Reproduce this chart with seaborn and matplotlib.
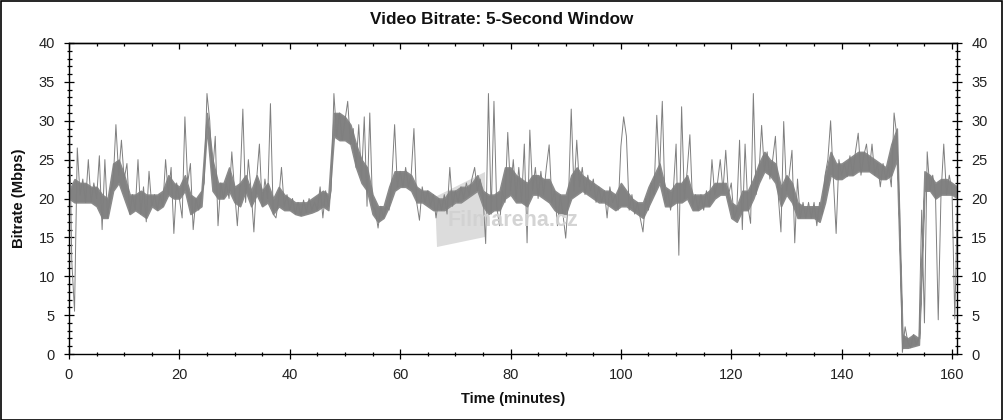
import numpy as np
import pandas as pd
import matplotlib
matplotlib.use("Agg")
import matplotlib.pyplot as plt
from matplotlib.ticker import MultipleLocator
from matplotlib.patches import Rectangle, Polygon
import seaborn as sns

# ---- data ----
SAMPLE_STEP_MIN = 0.5  # one reading every half minute (spikes and dips)

bitrate_mbps = [
    34, 12, 5.5, 26.5, 20.5, 22.5, 19.5, 25, 19.5, 22,
    20, 25.5, 16, 25, 17.5, 21, 22, 29.5, 23, 27.5,
    22.5, 24.5, 18, 20.5, 18.5, 25, 18, 21.5, 17, 23.5,
    19, 20.5, 18.5, 20.5, 19, 25, 20.5, 24, 15.5, 22,
    20, 17.5, 30.5, 22, 24.5, 16, 20, 18.5, 20.5, 22,
    33.5, 30, 23, 28, 16.5, 22, 20, 22, 20, 26,
    21, 16.5, 22, 31.5, 19.5, 25, 21, 15.7, 22.5, 27,
    19, 22.5, 20, 32.2, 18, 17.5, 20, 24, 19, 20.5,
    18.5, 20, 18, 19.5, 17.8, 19.8, 18.2, 20, 18.5, 19.5,
    18.5, 21.5, 17.5, 21, 19, 21, 33.5, 28, 31, 27.5,
    30, 32.5, 27, 29, 24, 29.5, 22.5, 30.5, 19, 31,
    19, 18.5, 16.2, 19, 17.5, 19, 18.5, 22.5, 29.5, 21.5,
    23.5, 21.5, 24, 21.5, 23, 29, 19.5, 17.2, 21.5, 19.5,
    21, 19, 20.5, 17.5, 20, 18.5, 20.5, 18, 24, 19,
    21, 19.5, 21.5, 20, 22, 20.5, 22.5, 24, 21, 22.5,
    20.5, 14.2, 33.5, 18, 32.5, 19, 16.5, 21, 19.5, 28.5,
    21, 25, 20, 24, 19.5, 27, 14.3, 28.8, 21, 24,
    20, 23.5, 20.5, 24, 26.9, 19.5, 21, 16.5, 20.5, 18,
    14.9, 20, 31.5, 21, 27.5, 21.5, 24, 20.5, 23, 21,
    22.5, 19.5, 21.5, 19.5, 21, 17.5, 21.5, 19.5, 20.5, 18.5,
    26.7, 30.5, 28, 18.5, 20.5, 18, 19.5, 17.5, 15.7, 20,
    18.5, 22, 20.5, 30.7, 23, 32.5, 19.5, 21, 18.5, 21,
    27, 12.7, 31.8, 20, 23.5, 28.2, 19, 20.5, 18.5, 20.5,
    18.5, 21, 19, 25, 20.5, 22, 25, 21, 26.2, 20.5,
    22, 17.5, 18.5, 27.5, 16, 27, 19, 16.8, 33.5, 20.5,
    23, 29.4, 23.5, 26, 22.5, 25, 28, 20.5, 15.7, 29.9,
    21, 23, 26.2, 14.3, 22.5, 17.5, 19.5, 17.5, 19.5, 17.5,
    19.5, 16.5, 19.5, 18, 23, 25, 30, 22.5, 15.5, 25,
    23, 24.5, 22.8, 25.5, 23, 26, 28.4, 23, 25.5, 27,
    23.5, 27, 23, 24.5, 21.5, 24.5, 22.5, 24, 21.5, 31,
    28, 18.5, 0.2, 3.5, 1.5, 0.8, 2.5, 1.2, 2, 18.5,
    4, 26, 21, 23, 20.5, 4.4, 20.5, 27, 20.5, 23,
    21, 4.5, 20.5,
]
minutes = np.arange(len(bitrate_mbps)) * SAMPLE_STEP_MIN

# dense body of the trace: lower / upper edge per whole minute (0..161)
band_low = [
    20, 19.5, 19.5, 19.5, 19.5, 19, 17.5, 17.5, 21, 22,
    20, 18, 18.5, 18, 17.5, 19, 18.5, 19, 20.5, 20,
    20, 21, 18, 18.5, 19, 29, 21, 20, 20, 21,
    19.5, 19, 21, 19, 20.5, 19, 19.5, 18, 19, 18.5,
    18.5, 18, 17.8, 18, 18.2, 18.5, 19, 18.5, 28, 27.5,
    27.5, 27, 24, 22, 21, 18, 17, 17.5, 19, 21,
    21.5, 21.5, 21, 19.5, 19.5, 19, 18.5, 18.5, 18.5, 19,
    19.5, 19.5, 20, 20.5, 21, 19, 18, 18.5, 18.5, 20,
    20.5, 19.5, 19.5, 19, 20.5, 20.5, 20, 19.5, 18.5, 18,
    18, 20, 20.5, 21, 20.5, 20, 19.5, 19.5, 19, 18.5,
    19, 19, 18.5, 18, 17.5, 19, 20.5, 22, 19, 19,
    19.5, 19.5, 20, 18.5, 18.5, 19, 19, 20, 20.5, 20.5,
    17.5, 17, 18.5, 18.5, 20, 22, 23.5, 23, 22, 19,
    20.5, 19.5, 17.5, 17.5, 17.5, 17.5, 17, 19.5, 23, 22.5,
    22.5, 23, 23, 23.5, 23.5, 23.5, 23, 22.5, 22.5, 23,
    25, 0.8, 0.8, 1, 1.2, 21, 21, 20, 20.5, 20.5,
    20.5, 20,
]
band_high = [
    21, 22.5, 22, 22, 21.5, 21.5, 20.5, 20, 24.5, 25,
    23, 20.5, 20.5, 21, 20.5, 20.5, 20.5, 21, 23, 22,
    21.5, 23, 20.5, 20, 21, 31, 25, 22, 22, 24,
    21.5, 22, 23, 21, 23, 21, 22, 20, 21.5, 20.5,
    20, 19.5, 19.5, 19.5, 20, 20.5, 21, 20.5, 31, 31,
    30.5, 29.5, 27, 25, 24, 20.5, 19, 19, 21.5, 23.5,
    23.5, 23.5, 23, 21.5, 21, 21, 20.5, 20, 20, 21,
    21, 21.5, 21.5, 22, 23, 21, 20.5, 20.5, 21, 24,
    24, 23, 22.5, 22, 23, 23, 22.5, 22.5, 21, 20.5,
    20.5, 23, 24, 23, 22.5, 22, 21.5, 21, 21, 20.5,
    22, 21, 20, 19.5, 19.5, 21.5, 23, 24.5, 21.5, 21,
    22, 22, 23, 20.5, 20.5, 20.5, 21, 22, 22, 22,
    19.5, 19, 21, 21, 22.5, 24.5, 26, 25, 24.5, 21.5,
    23, 22, 19.5, 19, 19, 19, 19, 23, 26, 24.5,
    24.5, 25, 25.5, 26, 26, 25.5, 25, 24.5, 24, 27,
    29, 2.5, 2, 2.5, 2, 23.5, 23, 22, 22.5, 22.5,
    22, 21.5,
]
band_minutes = np.arange(len(band_low))

title_text = "Video Bitrate: 5-Second Window"
x_label = "Time (minutes)"
y_label = "Bitrate (Mbps)"
watermark = "Filmarena.cz"

df = pd.DataFrame({"minutes": minutes, "bitrate": bitrate_mbps})

# ---- styling ----
sns.set_theme(style="ticks")
plt.rcParams["font.family"] = ["Liberation Sans", "DejaVu Sans"]

W, H = 1004, 420
fig = plt.figure(figsize=(W / 100, H / 100), dpi=100)
fig.patch.set_facecolor("white")
L, R, T, B = 69, 957, 43, 354
ax = fig.add_axes([L / W, 1 - B / H, (R - L) / W, (B - T) / H])
ax.set_facecolor("white")


def px(x, y):
    """pixel position of the reference image -> axes fraction"""
    return ((x - L) / (R - L), (B - y) / (B - T))


# watermark film icon (behind the trace)
ax.add_patch(Polygon([px(435, 197), px(485, 172), px(485, 237), px(437, 247)],
                     closed=True, transform=ax.transAxes, facecolor="#dcdcdc",
                     edgecolor="none", zorder=1))

LINE_GREY = "#7f7f7f"
ax.fill_between(band_minutes, band_low, band_high, facecolor="#828282",
                edgecolor="#8a8a8a", linewidth=1.1, zorder=1.5)
sns.lineplot(data=df, x="minutes", y="bitrate", ax=ax, color=LINE_GREY,
             linewidth=0.7, estimator=None, sort=False, zorder=2)

ax.set_xlim(0, 160.9)
ax.set_ylim(0, 40)
ax.xaxis.set_major_locator(MultipleLocator(20))
ax.xaxis.set_minor_locator(MultipleLocator(5))
ax.yaxis.set_major_locator(MultipleLocator(5))
ax.yaxis.set_minor_locator(MultipleLocator(1))

for s in ax.spines.values():
    s.set_visible(True)
    s.set_color("#000000")
    s.set_linewidth(1.0)
    s.set_zorder(4)

ax.tick_params(axis="y", which="both", left=True, right=True,
               labelleft=True, labelright=True, direction="inout",
               colors="#000000", labelcolor="#222222", labelsize=10.5, width=0.9)
ax.tick_params(axis="y", which="major", length=6.5, pad=7)
ax.tick_params(axis="y", which="minor", length=3.6)
ax.tick_params(axis="x", which="both", bottom=True, top=False,
               direction="inout", colors="#000000", labelcolor="#222222",
               labelsize=10.5, width=0.9)
ax.tick_params(axis="x", which="major", length=7.5, pad=6)
ax.tick_params(axis="x", which="minor", length=3)

top = ax.secondary_xaxis("top")
top.xaxis.set_major_locator(MultipleLocator(20))
top.xaxis.set_minor_locator(MultipleLocator(5))
top.tick_params(which="both", direction="in", labeltop=False, width=0.9,
                colors="#000000")
top.tick_params(which="major", length=4)
top.tick_params(which="minor", length=2.5)
top.spines["top"].set_linewidth(1.0)

ax.set_xlabel(x_label, fontsize=10.6, fontweight="bold", color="#111111")
ax.set_ylabel(y_label, fontsize=10.7, fontweight="bold", color="#111111")
ax.xaxis.set_label_coords(0.5, -(399 - B) / (B - T))
ax.xaxis.label.set_va("center")
ax.yaxis.set_label_coords(-(L - 19) / (R - L), 0.5)
ax.yaxis.label.set_va("center")

fig.text(0.5, 1 - 20 / H, title_text, ha="center", va="center",
         fontsize=12.3, fontweight="bold", color="#111111")

wx, wy = px(513, 220)
ax.text(wx, wy, watermark, transform=ax.transAxes, ha="center", va="center",
        fontsize=15.5, fontweight="bold", color="#d2d2d2", alpha=0.95, zorder=3)

fig.add_artist(Rectangle((0.0005, 0.001), 0.998, 0.997, transform=fig.transFigure,
                         fill=False, edgecolor="black", linewidth=1.2))

fig.savefig("out.png", dpi=100, facecolor="white")
